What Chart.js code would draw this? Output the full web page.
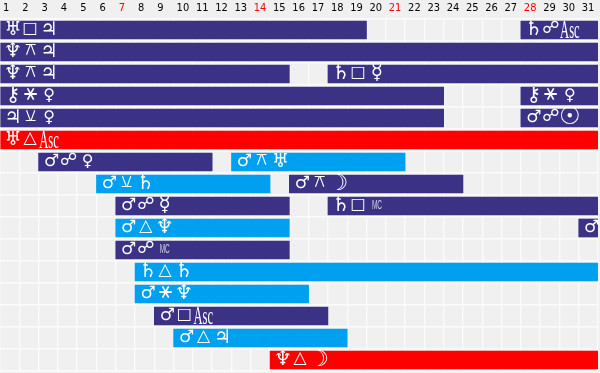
<!DOCTYPE html>
<html><head><meta charset="utf-8">
<script src="https://cdn.jsdelivr.net/npm/chart.js@4"></script>
<style>html,body{margin:0;padding:0;background:#f0f0f0}canvas{display:block}</style>
</head><body>
<div style="width:600px;height:373px"><canvas id="c" width="600" height="373"></canvas></div>
<script>
const dayLabels = Array.from({length:31},(_,i)=>String(i+1));
const redDays = ['7','14','21','28'];
const rowNames = ['r1','r2','r3','r4','r5','r6','r7','r8','r9','r10','r11','r12','r13','r14','r15','r16'];
const segmentRow   = [0,0,1,2,2,3,3,4,4,5,6,6,7,7,8,8,9,9,10,11,12,13,14,15];
const segmentStart = [0,27,0,0,17,0,27,0,27,0,2,12,5,15,6,17,6,30,6,7,7,8,9,14];
const segmentEnd   = [19,31,31,15,31,23,31,23,31,31,11,21,14,24,15,31,15,31,15,31,16,17,18,31];
const segmentKind  = ['n','n','n','n','n','n','n','n','n','r','n','b','b','n','n','n','b','n','n','b','b','n','b','r'];
const leftGlyph  = ['♅','♄','♆','♆','♄','⚷','⚷','♃','♂','♅','♂','♂','♂','♂','♂','♄','♂','♂','♂','♄','♂','♂','♂','♆'];
const aspectGlyph= ['□','☍','⚻','⚻','□','⚹','⚹','⚺','☍','△','☍','⚻','⚺','⚻','☍','□','△','','☍','△','⚹','□','△','△'];
const rightGlyph = ['♃','Asc','♃','♃','☿','♀','♀','♀','☉','Asc','♀','♅','♄','☽','☿','MC','♆','','MC','♄','♆','Asc','♃','☽'];
const kindColor = {n:'#3b3286',b:'#00a0f0',r:'#ff0000'};
const aspectSize = {'□':16,'☍':17,'⚻':17,'⚺':17,'⚹':22,'△':17};
const planetSize = {'♂':17,'♄':20,'♅':19,'♆':20,'♃':19,'⚷':20,'♀':16,'☿':20,'☉':24,'☽':22};

const glyphPlugin = {id:'glyphs',afterDatasetsDraw(chart){
  const ctx=chart.ctx, xs=chart.scales.x, ys=chart.scales.y;
  ctx.save();ctx.fillStyle='#fff';ctx.textAlign='center';ctx.textBaseline='middle';
  const face='"DejaVu Sans","Noto Sans"';
  segmentRow.forEach((r,i)=>{
    const x=xs.getPixelForValue(segmentStart[i]), y=ys.getPixelForValue(r);
    ctx.font=planetSize[leftGlyph[i]]+'px '+face;
    ctx.fillText(leftGlyph[i],x+13,y);
    if(aspectGlyph[i]){
      ctx.font=aspectSize[aspectGlyph[i]]+'px '+face;
      ctx.fillText(aspectGlyph[i],x+30,y-1.5);
    }
    const g=rightGlyph[i];
    if(g==='Asc'){ctx.save();ctx.translate(x+49,y+1.5);ctx.scale(1.05,2.1);ctx.font='12px "Liberation Serif"';ctx.fillText(g,0,0);ctx.restore();}
    else if(g==='MC'){ctx.save();ctx.globalAlpha=.75;ctx.translate(x+49,y);ctx.scale(.65,1.25);ctx.font='10px "Liberation Sans"';ctx.fillText(g,0,0);ctx.restore();}
    else if(g){ctx.font=planetSize[g]+'px '+face;ctx.fillText(g,x+49,y);}
  });
  ctx.restore();
}};
new Chart(document.getElementById('c'),{
  type:'bar',
  data:{labels:rowNames,datasets:segmentRow.map((r,i)=>({
    data:[{x:[segmentStart[i],segmentEnd[i]],y:rowNames[r]}],
    backgroundColor:kindColor[segmentKind[i]],barThickness:18,grouped:false,borderWidth:0
  }))},
  options:{
    indexAxis:'y',responsive:false,animation:false,
    layout:{padding:{left:0,top:0,right:2,bottom:2}},
    plugins:{legend:{display:false},tooltip:{enabled:false}},
    scales:{
      x:{type:'linear',position:'top',min:0,max:31,
        afterFit(s){s.height=19;s.paddingLeft=0;s.paddingRight=0;},
        afterBuildTicks(s){s.ticks=dayLabels.concat('').map((_,i)=>({value:i}));},
        grid:{color:'#fbfbfb',lineWidth:1.4,tickLength:0,drawTicks:false},border:{display:false},
        ticks:{autoSkip:false,maxRotation:0,align:'start',padding:4,labelOffset:3,
          font:{family:'"DejaVu Sans Condensed","DejaVu Sans"',size:11},
          callback:(v)=>dayLabels[v]||'',
          color:(c)=>redDays.includes(dayLabels[c.index])?'#ff0000':'#000000'}},
      y:{type:'category',offset:true,grid:{color:'#fbfbfb',lineWidth:1.4,drawTicks:false},border:{display:false},
        afterFit(s){s.width=0;},
        ticks:{display:false}}
    }
  },
  plugins:[glyphPlugin]
});
</script>
</body></html>
